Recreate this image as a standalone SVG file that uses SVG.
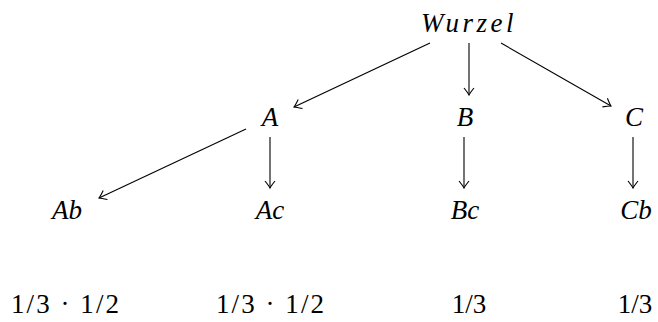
<svg xmlns="http://www.w3.org/2000/svg" width="658" height="322" viewBox="0 0 658 322">
<defs>
<marker id="to" viewBox="-8 -6 10 12" markerWidth="10" markerHeight="12" refX="0" refY="0" orient="auto" markerUnits="userSpaceOnUse">
<path d="M-7,-5 Q-2,-1 0,0 Q-2,1 -7,5" fill="none" stroke="#000" stroke-width="1.1"/>
</marker>
</defs>
<rect width="658" height="322" fill="#fff"/>
<g id="connectors" stroke="#000" stroke-width="1.1" fill="none" marker-end="url(#to)">
<line x1="430" y1="43" x2="294" y2="107"/>
<line x1="469" y1="43" x2="469" y2="95"/>
<line x1="501" y1="43" x2="611" y2="106"/>
<line x1="246" y1="129" x2="99" y2="198"/>
<line x1="270" y1="137" x2="270" y2="188"/>
<line x1="464" y1="137" x2="464" y2="188"/>
<line x1="633" y1="137" x2="633" y2="188"/>
</g>
<g id="wurzel"><text x="469" y="32" text-anchor="middle" letter-spacing="3.5" font-family="'Liberation Serif'" font-size="27" font-style="italic">Wurzel</text></g>
<g id="A"><text x="270" y="126" text-anchor="middle" font-family="'Liberation Serif'" font-size="27" font-style="italic">A</text></g>
<g id="B"><text x="465" y="126" text-anchor="middle" font-family="'Liberation Serif'" font-size="27" font-style="italic">B</text></g>
<g id="C"><text x="634" y="126" text-anchor="middle" font-family="'Liberation Serif'" font-size="27" font-style="italic">C</text></g>
<g id="Ab"><text x="67" y="219" text-anchor="middle" font-family="'Liberation Serif'" font-size="27" font-style="italic">Ab</text></g>
<g id="Ac"><text x="270" y="219" text-anchor="middle" font-family="'Liberation Serif'" font-size="27" font-style="italic">Ac</text></g>
<g id="Bc"><text x="465" y="219" text-anchor="middle" font-family="'Liberation Serif'" font-size="27" font-style="italic">Bc</text></g>
<g id="Cb"><text x="636" y="219" text-anchor="middle" font-family="'Liberation Serif'" font-size="27" font-style="italic">Cb</text></g>
<g id="p1"><text x="65" y="313" text-anchor="middle" textLength="108" lengthAdjust="spacing" font-family="'Liberation Serif'" font-size="27">1/3 &#183; 1/2</text></g>
<g id="p2"><text x="270" y="313" text-anchor="middle" textLength="108" lengthAdjust="spacing" font-family="'Liberation Serif'" font-size="27">1/3 &#183; 1/2</text></g>
<g id="p3"><text x="469" y="313" text-anchor="middle" font-family="'Liberation Serif'" font-size="27">1/3</text></g>
<g id="p4"><text x="635" y="313" text-anchor="middle" font-family="'Liberation Serif'" font-size="27">1/3</text></g>
</svg>
